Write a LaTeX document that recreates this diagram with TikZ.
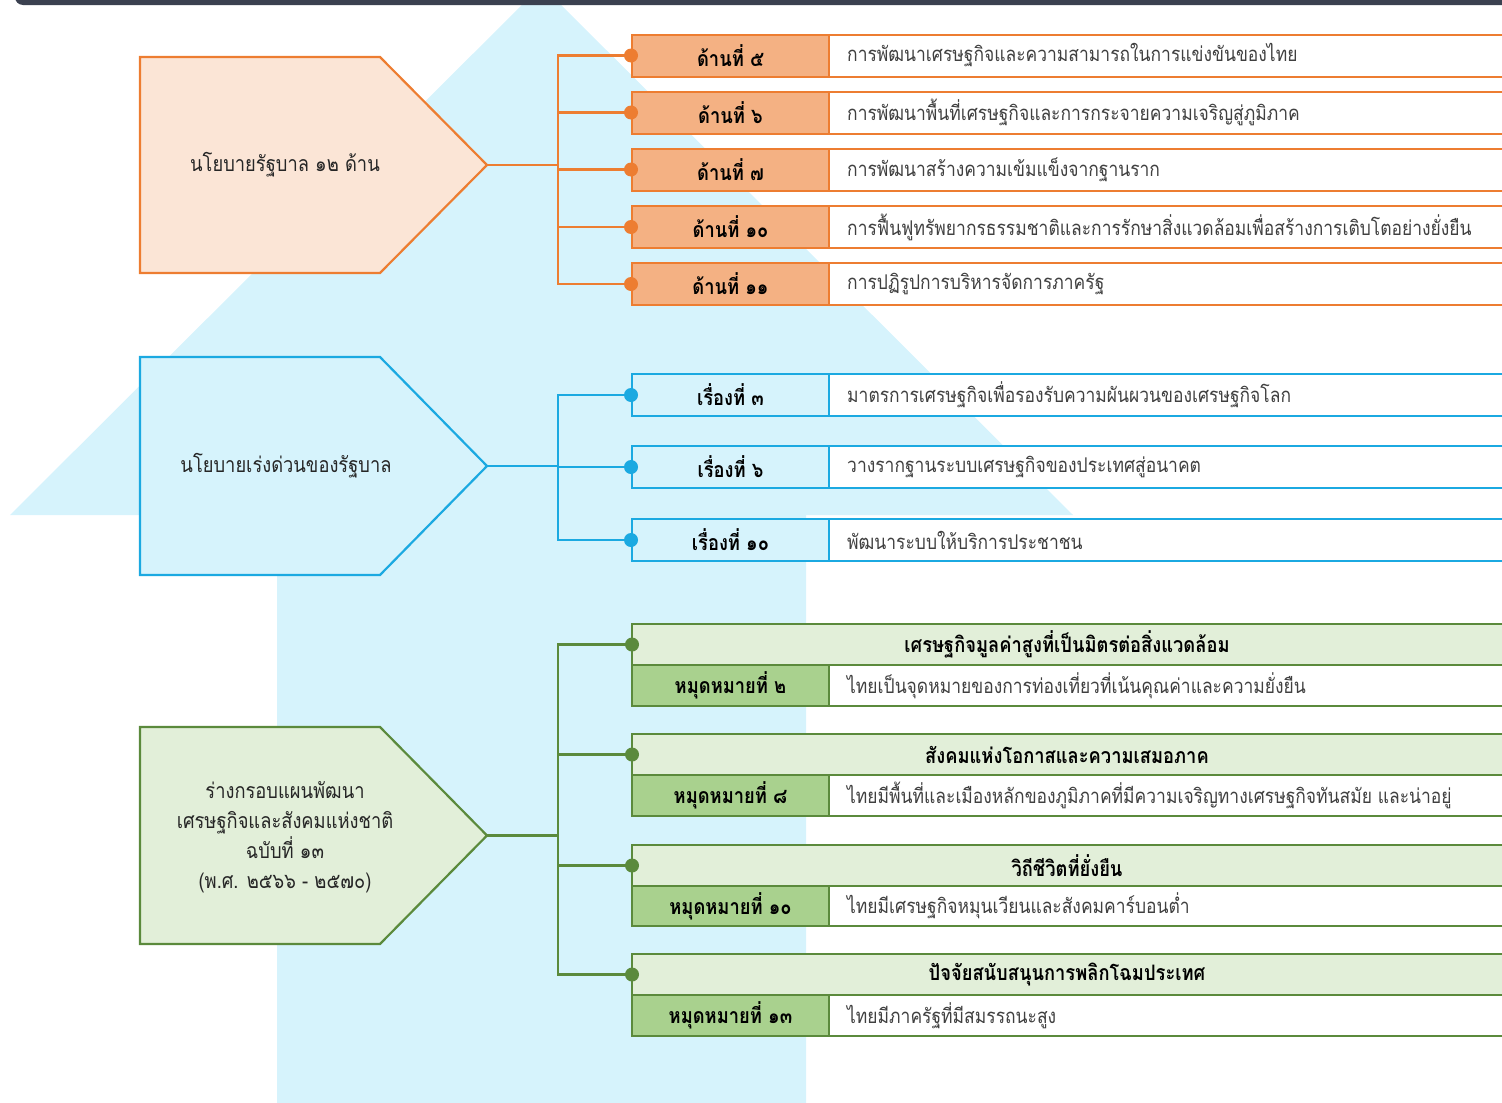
\documentclass[tikz,border=0pt]{standalone}
\usepackage{fontspec}
\newfontfamily\thaitext[Script=Thai,FakeStretch=0.86]{Loma}
\usetikzlibrary{positioning}

\definecolor{barfill}{HTML}{3B4150}
\definecolor{arrowbg}{HTML}{D6F3FC}
\definecolor{orgline}{HTML}{ED7D31}
\definecolor{orgmid}{HTML}{F4B183}
\definecolor{orglight}{HTML}{FBE5D6}
\definecolor{bluline}{HTML}{1BA9E1}
\definecolor{blulight}{HTML}{D6F3FC}
\definecolor{grnline}{HTML}{5B8A3C}
\definecolor{grnmid}{HTML}{A9D18E}
\definecolor{grnlight}{HTML}{E2EFD9}
\definecolor{txtgray}{HTML}{404040}

\begin{document}
\begin{tikzpicture}[x=1pt,y=-1pt,
    pent/.style={line width=2.2pt,line join=miter},
    pentxt/.style={align=center,inner sep=0pt,text=black!85,
        font={\thaitext\fontsize{21.3}{30}\selectfont}},
    conn/.style={line width=2.8pt},
    rowbar/.style={line width=2pt,draw=#1,fill=white},
    lbl/.style={draw,line width=2pt,minimum width=197pt,minimum height=42pt,
        inner sep=0pt,font={\thaitext\bfseries\fontsize{21.3}{24}\selectfont}},
    desc/.style={inner sep=0pt,text=txtgray,
        font={\thaitext\fontsize{20.3}{24}\selectfont}},
    headtxt/.style={inner sep=0pt,font={\thaitext\bfseries\fontsize{21.3}{24}\selectfont}},
    ]
    \useasboundingbox (0,0) rectangle (1502,1103);
    % big arrow in the background
    \fill[arrowbg] (541.5,-14.5) -- (1073,515) -- (806,515) -- (806,1120)
        -- (277,1120) -- (277,515) -- (10,515) -- cycle;
    % top bar
    \fill[barfill,rounded corners=8pt] (15,-20) rectangle (1530,5);

    % ---- 12 policies (orange)
    \draw[pent,orgline,fill=orglight] (140,57) -- (380,57) -- (487,165)
        -- (380,273) -- (140,273) -- cycle;
    \coordinate (govtip) at (487,165);
    \coordinate (ojn) at (558,165);
    \node[pentxt] (gov) at (285,165) {นโยบายรัฐบาล ๑๒ ด้าน};

    \draw[rowbar=orgline] (632,34.5) rectangle (1530,76.5);
    \draw[rowbar=orgline] (632,91.5) rectangle (1530,133.5);
    \draw[rowbar=orgline] (632,148.5) rectangle (1530,190.5);
    \draw[rowbar=orgline] (632,206) rectangle (1530,248);
    \draw[rowbar=orgline] (632,263) rectangle (1530,305);
    \node[lbl,draw=orgline,fill=orgmid] (o5) at (730.5,55.5) {ด้านที่ ๕};
    \node[lbl,draw=orgline,fill=orgmid] (o6) at (730.5,112.5) {ด้านที่ ๖};
    \node[lbl,draw=orgline,fill=orgmid] (o7) at (730.5,169.5) {ด้านที่ ๗};
    \node[lbl,draw=orgline,fill=orgmid] (o10) at (730.5,227) {ด้านที่ ๑๐};
    \node[lbl,draw=orgline,fill=orgmid] (o11) at (730.5,284) {ด้านที่ ๑๑};
    \node[desc,right=17pt of o5] {การพัฒนาเศรษฐกิจและความสามารถในการแข่งขันของไทย};
    \node[desc,right=17pt of o6] {การพัฒนาพื้นที่เศรษฐกิจและการกระจายความเจริญสู่ภูมิภาค};
    \node[desc,right=17pt of o7] {การพัฒนาสร้างความเข้มแข็งจากฐานราก};
    \node[desc,right=17pt of o10] {การฟื้นฟูทรัพยากรธรรมชาติและการรักษาสิ่งแวดล้อมเพื่อสร้างการเติบโตอย่างยั่งยืน};
    \node[desc,right=17pt of o11] {การปฏิรูปการบริหารจัดการภาครัฐ};

    \draw[conn,orgline] (govtip) -- (ojn);
    \draw[conn,orgline] (ojn) |- (o5.west);
    \draw[conn,orgline] (ojn) |- (o6.west);
    \draw[conn,orgline] (ojn) |- (o7.west);
    \draw[conn,orgline] (ojn) |- (o10.west);
    \draw[conn,orgline] (ojn) |- (o11.west);
    \fill[orgline] (o5.west) circle (7pt) (o6.west) circle (7pt)
        (o7.west) circle (7pt) (o10.west) circle (7pt) (o11.west) circle (7pt);

    % ---- urgent policies (blue)
    \draw[pent,bluline,fill=blulight] (140,357) -- (380,357) -- (487,466)
        -- (380,575) -- (140,575) -- cycle;
    \coordinate (urgtip) at (487,466);
    \coordinate (bjn) at (558,466);
    \node[pentxt] (urg) at (286,466) {นโยบายเร่งด่วนของรัฐบาล};

    \draw[rowbar=bluline] (632,374) rectangle (1530,416);
    \draw[rowbar=bluline] (632,446) rectangle (1530,488);
    \draw[rowbar=bluline] (632,519) rectangle (1530,561);
    \node[lbl,draw=bluline,fill=blulight] (b3) at (730.5,395) {เรื่องที่ ๓};
    \node[lbl,draw=bluline,fill=blulight] (b6) at (730.5,467) {เรื่องที่ ๖};
    \node[lbl,draw=bluline,fill=blulight] (b10) at (730.5,540) {เรื่องที่ ๑๐};
    \node[desc,right=17pt of b3] {มาตรการเศรษฐกิจเพื่อรองรับความผันผวนของเศรษฐกิจโลก};
    \node[desc,right=17pt of b6] {วางรากฐานระบบเศรษฐกิจของประเทศสู่อนาคต};
    \node[desc,right=17pt of b10] {พัฒนาระบบให้บริการประชาชน};

    \draw[conn,bluline] (urgtip) -- (bjn);
    \draw[conn,bluline] (bjn) |- (b3.west);
    \draw[conn,bluline] (bjn) |- (b6.west);
    \draw[conn,bluline] (bjn) |- (b10.west);
    \fill[bluline] (b3.west) circle (7pt) (b6.west) circle (7pt) (b10.west) circle (7pt);

    % ---- 13th plan (green)
    \draw[pent,grnline,fill=grnlight] (140,727) -- (380,727) -- (487,835.5)
        -- (380,944) -- (140,944) -- cycle;
    \coordinate (plantip) at (487,835.5);
    \coordinate (gjn) at (558,835.5);
    \node[pentxt] (plan) at (285,837) {ร่างกรอบแผนพัฒนา\\เศรษฐกิจและสังคมแห่งชาติ\\ฉบับที่ ๑๓\\(พ.ศ. ๒๕๖๖ - ๒๕๗๐)};

    % header rows
    \draw[rowbar=grnline,fill=grnlight] (632,624) rectangle (1530,665);
    \draw[rowbar=grnline,fill=grnlight] (632,734) rectangle (1530,775);
    \draw[rowbar=grnline,fill=grnlight] (632,845) rectangle (1530,886);
    \draw[rowbar=grnline,fill=grnlight] (632,954) rectangle (1530,995);
    \coordinate (h2) at (632,644.5);
    \coordinate (h8) at (632,754.5);
    \coordinate (h10) at (632,865.5);
    \coordinate (h13) at (632,974.5);
    \node[headtxt] at (1067,644.5) {เศรษฐกิจมูลค่าสูงที่เป็นมิตรต่อสิ่งแวดล้อม};
    \node[headtxt] at (1067,754.5) {สังคมแห่งโอกาสและความเสมอภาค};
    \node[headtxt] at (1067,865.5) {วิถีชีวิตที่ยั่งยืน};
    \node[headtxt] at (1067,974.5) {ปัจจัยสนับสนุนการพลิกโฉมประเทศ};
    % goal rows
    \draw[rowbar=grnline] (632,665) rectangle (1530,706);
    \draw[rowbar=grnline] (632,775) rectangle (1530,816);
    \draw[rowbar=grnline] (632,886) rectangle (1530,926);
    \draw[rowbar=grnline] (632,995) rectangle (1530,1036);
    \node[lbl,draw=grnline,fill=grnmid,minimum height=41pt] (g2) at (730.5,685.5) {หมุดหมายที่ ๒};
    \node[lbl,draw=grnline,fill=grnmid,minimum height=41pt] (g8) at (730.5,795.5) {หมุดหมายที่ ๘};
    \node[lbl,draw=grnline,fill=grnmid,minimum height=40pt] (g10) at (730.5,906) {หมุดหมายที่ ๑๐};
    \node[lbl,draw=grnline,fill=grnmid,minimum height=41pt] (g13) at (730.5,1015.5) {หมุดหมายที่ ๑๓};
    \node[desc,right=17pt of g2] {ไทยเป็นจุดหมายของการท่องเที่ยวที่เน้นคุณค่าและความยั่งยืน};
    \node[desc,right=17pt of g8] {ไทยมีพื้นที่และเมืองหลักของภูมิภาคที่มีความเจริญทางเศรษฐกิจทันสมัย และน่าอยู่};
    \node[desc,right=17pt of g10] {ไทยมีเศรษฐกิจหมุนเวียนและสังคมคาร์บอนต่ำ};
    \node[desc,right=17pt of g13] {ไทยมีภาครัฐที่มีสมรรถนะสูง};

    \draw[conn,grnline] (plantip) -- (gjn);
    \draw[conn,grnline] (gjn) |- (h2);
    \draw[conn,grnline] (gjn) |- (h8);
    \draw[conn,grnline] (gjn) |- (h10);
    \draw[conn,grnline] (gjn) |- (h13);
    \fill[grnline] (h2) circle (7pt) (h8) circle (7pt) (h10) circle (7pt) (h13) circle (7pt);
\end{tikzpicture}
\end{document}
